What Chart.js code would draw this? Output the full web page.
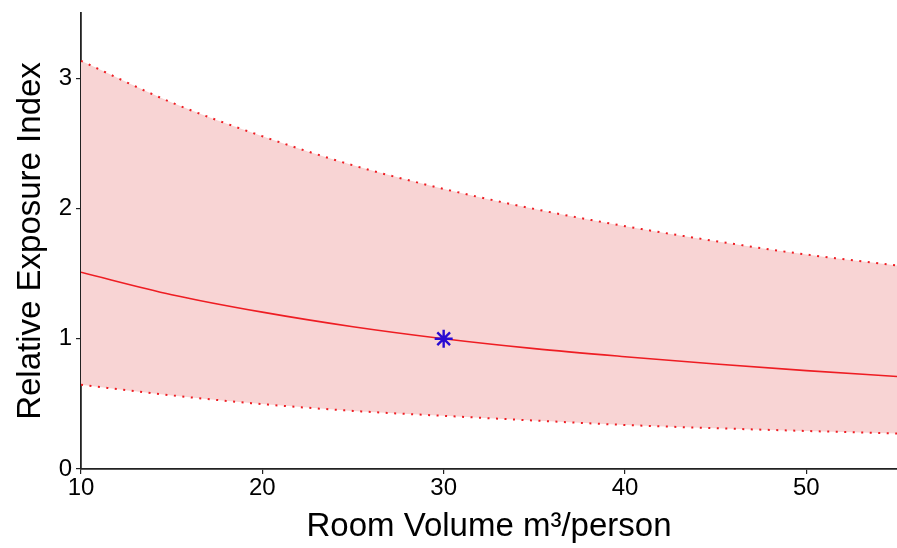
<!DOCTYPE html>
<html>
<head>
<meta charset="utf-8">
<script src="https://cdn.jsdelivr.net/npm/chart.js@4.4.0/dist/chart.umd.min.js"></script>
<style>
html,body{margin:0;padding:0;background:#fff;}
#wrap{width:897px;height:548px;position:relative;}
</style>
</head>
<body>
<div id="wrap"><canvas id="c" width="897" height="548"></canvas></div>
<script>
const roomVolume = [10, 15, 20, 25, 30, 35, 40, 45, 50, 55];
const meanIndex  = [1.51, 1.338, 1.204, 1.092, 1.0, 0.924, 0.862, 0.806, 0.755, 0.71];
const upperIndex = [3.133, 2.813, 2.554, 2.331, 2.15, 1.996, 1.864, 1.749, 1.646, 1.562];
const lowerIndex = [0.646, 0.565, 0.498, 0.446, 0.408, 0.372, 0.338, 0.313, 0.292, 0.272];
const referencePoint = [{x: 30, y: 1}];
const xTicks = [10, 20, 30, 40, 50];
const yTicks = [0, 1, 2, 3];

const toPts = (ys) => roomVolume.map((x, i) => ({x: x, y: ys[i]}));
const RED = '#ee1d23';
const FONT = "'Liberation Sans', Arial, sans-serif";

new Chart(document.getElementById('c'), {
  type: 'line',
  data: {
    datasets: [
      {
        label: 'Reference',
        data: referencePoint,
        showLine: false,
        pointStyle: 'star',
        pointRadius: 9,
        pointBorderWidth: 2.4,
        pointBorderColor: 'rgb(40,10,210)',
        pointBackgroundColor: 'rgb(40,10,210)'
      },
      {
        label: 'Mean',
        data: toPts(meanIndex),
        borderColor: RED,
        borderWidth: 1.6,
        pointRadius: 0,
        cubicInterpolationMode: 'monotone',
        fill: false
      },
      {
        label: 'Upper',
        data: toPts(upperIndex),
        borderColor: RED,
        borderWidth: 2,
        borderDash: [2, 6.5],
        pointRadius: 0,
        cubicInterpolationMode: 'monotone',
        fill: {target: 3},
        backgroundColor: '#f8d4d4'
      },
      {
        label: 'Lower',
        data: toPts(lowerIndex),
        borderColor: RED,
        borderWidth: 2,
        borderDash: [2, 6.5],
        pointRadius: 0,
        cubicInterpolationMode: 'monotone',
        fill: false
      }
    ]
  },
  options: {
    responsive: false,
    animation: false,
    devicePixelRatio: 1,
    layout: {autoPadding: false, padding: {top: 13, right: 0, left: 0, bottom: 0}},
    plugins: {
      legend: {display: false},
      tooltip: {enabled: false},
      filler: {drawTime: 'beforeDatasetsDraw'}
    },
    scales: {
      x: {
        type: 'linear',
        min: 10,
        max: 55,
        afterBuildTicks: (s) => { s.ticks = xTicks.map(v => ({value: v})); },
        afterFit: (s) => { s.height = 79; s.paddingRight = 0; s.paddingLeft = 0; },
        grid: {display: true, drawOnChartArea: false, drawTicks: true, tickLength: 5, color: '#222', lineWidth: 1.2},
        border: {display: true, color: '#222', width: 1.8},
        ticks: {color: '#000', font: {family: FONT, size: 24}, padding: 0, maxRotation: 0, autoSkip: false},
        title: {display: true, text: 'Room Volume m³/person', color: '#000', font: {family: FONT, size: 33}, padding: {top: 0, bottom: 1}}
      },
      y: {
        type: 'linear',
        min: 0,
        max: 3.5,
        afterBuildTicks: (s) => { s.ticks = yTicks.map(v => ({value: v})); },
        afterFit: (s) => { s.width = 81; s.paddingTop = 0; s.paddingBottom = 0; },
        grid: {display: true, drawOnChartArea: false, drawTicks: true, tickLength: 5, color: '#222', lineWidth: 1.2},
        border: {display: true, color: '#222', width: 1.8},
        ticks: {color: '#000', font: {family: FONT, size: 24}, padding: 4},
        title: {display: true, text: 'Relative Exposure Index', color: '#000', font: {family: FONT, size: 33}, padding: {top: 11, bottom: 0}}
      }
    }
  }
});
</script>
</body>
</html>
